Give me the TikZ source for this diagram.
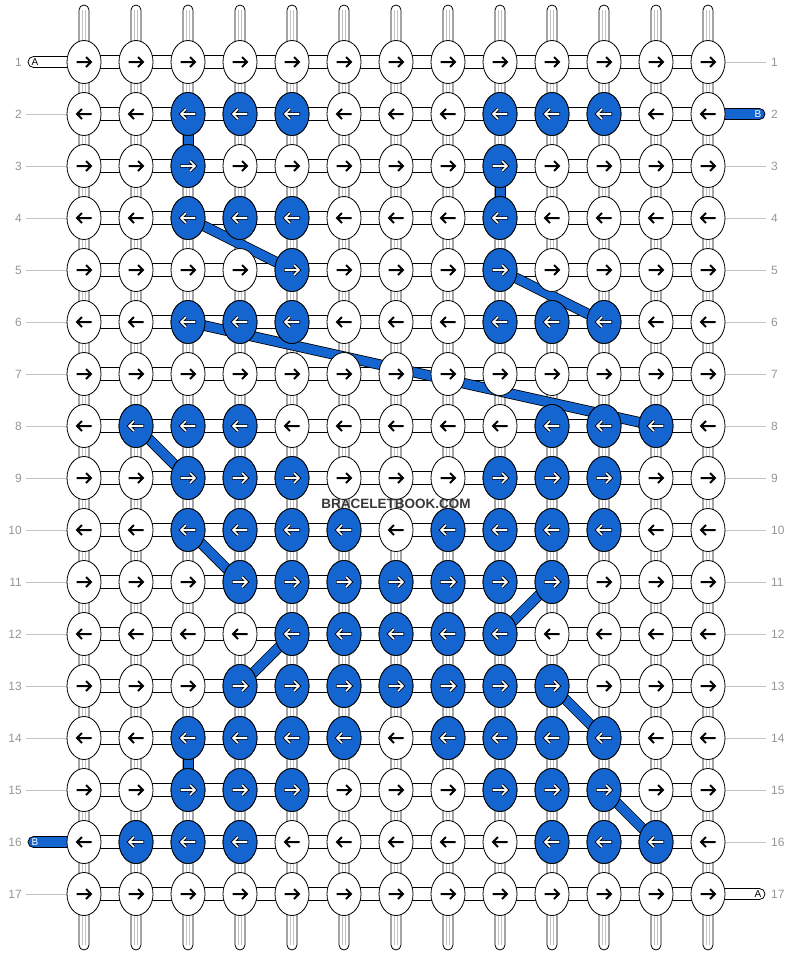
\documentclass[tikz,border=0pt]{standalone}
\usepackage{fontspec}
\setmainfont{Liberation Sans}
\definecolor{bb}{RGB}{21,101,208}
\definecolor{labgray}{RGB}{150,150,150}
\definecolor{linegray}{RGB}{195,195,195}
\definecolor{wmgray}{RGB}{55,55,55}
\begin{document}
\begin{tikzpicture}[x=1pt,y=-1pt,
  outl/.style={line width=0.8pt,draw=black},
  tube/.style={outl,fill=white},
  bluebox/.style={outl,fill=bb},
  inner/.style={draw=linegray,line width=0.8pt},
  rowlab/.style={text=labgray,font=\fontsize{12}{14}\selectfont,inner sep=0pt},
  endlab/.style={font=\fontsize{10}{12}\selectfont,inner sep=0pt},
  diag/.style={draw=black,line width=0.8pt,double=bb,double distance=9pt},
  arrb/.style={draw=black,line width=2pt},
  arro/.style={draw=black,line width=3.4pt},
  arri/.style={draw=white,line width=1.6pt}]
\useasboundingbox (0,0) rectangle (792,956);
% knot positions
\foreach \r in {1,...,17}{
  \foreach \c in {1,...,13}{
    \coordinate (p-\r-\c) at ({32+52*\c},{10+52*\r});
  }
}
% vertical strands
\foreach \c in {1,...,13}{
  \coordinate (t-\c) at ({32+52*\c},5);
  \coordinate (b-\c) at ({32+52*\c},950);
  \draw[tube,rounded corners=5pt] ([xshift=-5pt]t-\c) rectangle ([xshift=5pt]b-\c);
  \draw[inner] ([xshift=-1.8pt,yshift=-5pt]t-\c) -- ([xshift=-1.8pt,yshift=5pt]b-\c);
  \draw[inner] ([xshift=1.8pt,yshift=-5pt]t-\c) -- ([xshift=1.8pt,yshift=5pt]b-\c);
}
% horizontal connectors
\foreach \r in {1,...,17}{
  \foreach \c [evaluate=\c as \n using int(\c+1)] in {1,...,12}{
    \draw[tube] ([yshift=6.5pt]p-\r-\c) rectangle ([yshift=-6.5pt]p-\r-\n);
  }
}
% blue vertical segments
\foreach \c/\ra/\rb in {3/2/3, 9/3/4, 3/14/15}{
  \draw[bluebox] ([xshift=-5pt]p-\ra-\c) rectangle ([xshift=5pt]p-\rb-\c);
}
% row labels and guide lines
\foreach \r in {1,...,17}{
  \node[rowlab,anchor=east] (ll-\r) at (22,{10+52*\r}) {\r};
  \node[rowlab,anchor=west] (rl-\r) at (771,{10+52*\r}) {\r};
}
\foreach \r in {2,...,15,17}{
  \coordinate (le-\r) at (26,{10+52*\r});
  \draw[linegray,line width=0.8pt] (le-\r) -- (p-\r-1);
}
\foreach \r in {1,3,4,...,16}{
  \coordinate (re-\r) at (766,{10+52*\r});
  \draw[linegray,line width=0.8pt] (p-\r-13) -- (re-\r);
}
% end strings
\coordinate (ea) at (28,62);
\coordinate (eb) at (765,114);
\coordinate (ec) at (28,842);
\coordinate (ed) at (765,894);
\draw[tube,rounded corners=5.5pt] ([yshift=-5.5pt]ea) rectangle ([yshift=5.5pt]p-1-1);
\draw[bluebox,rounded corners=5.5pt] ([yshift=-5.5pt]p-2-13) rectangle ([yshift=5.5pt]eb);
\draw[bluebox,rounded corners=5.5pt] ([yshift=-5.5pt]ec) rectangle ([yshift=5.5pt]p-16-1);
\draw[tube,rounded corners=5.5pt] ([yshift=-5.5pt]p-17-13) rectangle ([yshift=5.5pt]ed);
\node[endlab] (la) at (35,62.5) {A};
\node[endlab,text=white] (lb) at (758,114.5) {B};
\node[endlab,text=white] (lc) at (35,842.5) {B};
\node[endlab] (ld) at (758,894.5) {A};
% diagonal blue strings
\foreach \ra/\ca/\rb/\cb in {4/3/5/5, 5/9/6/11, 6/3/8/12, 8/2/9/3, 10/3/11/4, 11/10/12/9, 12/5/13/4, 13/10/14/11, 15/11/16/12}{
  \draw[diag] (p-\ra-\ca) -- (p-\rb-\cb);
}
% white knots
\foreach \r in {1,...,17}{
  \foreach \c in {1,...,13}{
    \draw[outl,fill=white] (p-\r-\c) ellipse [x radius=17pt, y radius=21.5pt];
    \ifodd\r
      \draw[arrb,shift={(p-\r-\c)}] (-7.5,0) -- (7,0) (2,-5) -- (7,0) -- (2,5);
    \else
      \draw[arrb,shift={(p-\r-\c)}] (7.5,0) -- (-7,0) (-2,-5) -- (-7,0) -- (-2,5);
    \fi
  }
}
% blue knots
\foreach \r/\cols in {2/{3,4,5,9,10,11}, 3/{3,9}, 4/{3,4,5,9}, 5/{5,9}, 6/{3,4,5,9,10,11},
  8/{2,3,4,10,11,12}, 9/{3,4,5,9,10,11}, 10/{3,4,5,6,8,9,10,11}, 11/{4,5,6,7,8,9,10},
  12/{5,6,7,8,9}, 13/{4,5,6,7,8,9,10}, 14/{3,4,5,6,8,9,10,11}, 15/{3,4,5,9,10,11},
  16/{2,3,4,10,11,12}}{
  \foreach \c in \cols {
    \draw[outl,fill=bb] (p-\r-\c) ellipse [x radius=17pt, y radius=21.5pt];
    \ifodd\r
      \draw[arro,shift={(p-\r-\c)}] (-8,0) -- (7,0) (2,-5) -- (7,0) -- (2,5);
      \draw[arri,shift={(p-\r-\c)}] (-7.3,0) -- (7,0) (2,-5) -- (7,0) -- (2,5);
    \else
      \draw[arro,shift={(p-\r-\c)}] (8,0) -- (-7,0) (-2,-5) -- (-7,0) -- (-2,5);
      \draw[arri,shift={(p-\r-\c)}] (7.3,0) -- (-7,0) (-2,-5) -- (-7,0) -- (-2,5);
    \fi
  }
}
% watermark
\node[text=wmgray,font=\fontsize{13.5}{16}\selectfont\bfseries,inner sep=0pt] (wm) at (396,504) {BRACELETBOOK.COM};
\end{tikzpicture}
\end{document}
